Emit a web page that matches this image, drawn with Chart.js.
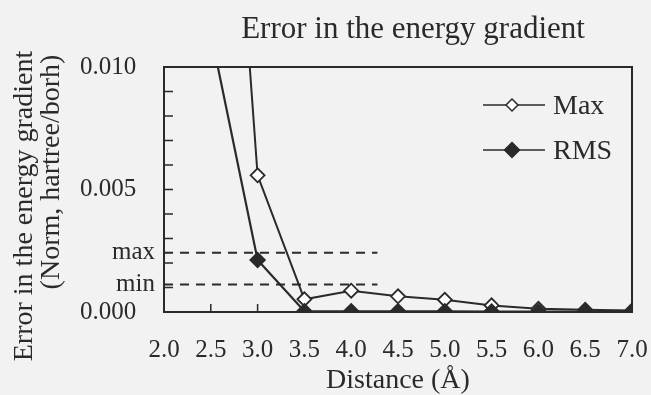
<!DOCTYPE html>
<html>
<head>
<meta charset="utf-8">
<title>Error in the energy gradient</title>
<script src="https://cdn.jsdelivr.net/npm/chart.js@4.4.1/dist/chart.umd.min.js"></script>
<style>
    html, body { margin: 0; padding: 0; background: #f2f2f2; }
    #wrap { width: 651px; height: 395px; }
</style>
</head>
<body>
<div id="wrap"><canvas id="chart" width="651" height="395"></canvas></div>
<script>
// Distance (Å) and gradient errors
const distances = [2.5, 3.0, 3.5, 4.0, 4.5, 5.0, 5.5, 6.0, 6.5, 7.0];
const maxError = [0.032, 0.00558, 0.00052, 0.00087, 0.00064, 0.0005, 0.00027, 0.00013, 0.00009, 0.00006];
const rmsError = [0.0114, 0.00212, 0.00003, 0.00003, 0.00003, 0.00003, 0.00002, 0.00002, 0.00002, 0.00002];

// dashed reference levels and how far they run along x
const refMax = 0.00242;
const refMin = 0.00112;
const refSpan = [2.0, 4.28];

// axis ticks
const xTickStep = 0.5;
const yTickValues = [0, refMin, refMax, 0.005, 0.010];
const yTickLabels = ['0.000', 'min', 'max', '0.005', '0.010'];
const yMinorTicks = [0, 0.001, 0.002, 0.003, 0.004, 0.005, 0.006, 0.007, 0.008, 0.009, 0.010];

const legendItems = [
    { label: 'Max', filled: false },
    { label: 'RMS', filled: true }
];

const ink = '#2a2a2a';
const serif = '"Liberation Serif", "Times New Roman", serif';

/**
 * Frame round the plot plus inward tick marks
 */
const framePlugin = {
    id: 'frame',
    beforeDatasetsDraw(chart) {
        const { ctx, chartArea: a, scales } = chart;
        ctx.save();
        ctx.strokeStyle = ink;
        ctx.lineWidth = 2;
        ctx.strokeRect(a.left, a.top, a.right - a.left, a.bottom - a.top);

        ctx.lineWidth = 1.5;
        ctx.beginPath();
        yMinorTicks.forEach(v => {
            const y = scales.y.getPixelForValue(v);
            ctx.moveTo(a.left, y);
            ctx.lineTo(a.left + 9, y);
        });
        scales.x.ticks.forEach(t => {
            const x = scales.x.getPixelForValue(t.value);
            ctx.moveTo(x, a.bottom);
            ctx.lineTo(x, a.bottom - 8);
        });
        ctx.stroke();
        ctx.restore();
    }
};

/**
 * Title, two-line y title and the legend inside the plot
 */
const textPlugin = {
    id: 'texts',
    afterDraw(chart) {
        const ctx = chart.ctx;
        ctx.save();
        ctx.fillStyle = ink;

        // title
        ctx.font = '31px ' + serif;
        ctx.textAlign = 'center';
        ctx.textBaseline = 'alphabetic';
        ctx.fillText('Error in the energy gradient', 413, 38);

        // y axis title, rotated
        ctx.font = '28px ' + serif;
        [['Error in the energy gradient', 32, 206], ['(Norm, hartree/borh)', 59, 172]].forEach(([txt, x, y]) => {
            ctx.save();
            ctx.translate(x, y);
            ctx.rotate(-Math.PI / 2);
            ctx.fillText(txt, 0, 0);
            ctx.restore();
        });

        // legend
        ctx.strokeStyle = ink;
        ctx.textAlign = 'left';
        legendItems.forEach((item, i) => {
            const y = 105 + i * 45;
            ctx.lineWidth = 1.5;
            ctx.beginPath();
            ctx.moveTo(483, y);
            ctx.lineTo(545, y);
            ctx.stroke();

            const r = item.filled ? 7.5 : 6;
            ctx.beginPath();
            ctx.moveTo(512, y - r);
            ctx.lineTo(512 + r, y);
            ctx.lineTo(512, y + r);
            ctx.lineTo(512 - r, y);
            ctx.closePath();
            ctx.fillStyle = item.filled ? ink : '#ffffff';
            ctx.fill();
            ctx.stroke();

            ctx.fillStyle = ink;
            ctx.font = '28px ' + serif;
            ctx.fillText(item.label, 553, y + 9);
        });
        ctx.restore();
    }
};

const toPoints = (xs, ys) => xs.map((x, i) => ({ x: x, y: ys[i] }));

const refDataset = (level) => ({
    label: '',
    data: refSpan.map(x => ({ x: x, y: level })),
    borderColor: ink,
    borderWidth: 2,
    borderDash: [9, 7],
    pointRadius: 0,
    order: 3
});

new Chart(document.getElementById('chart'), {
    type: 'line',
    data: {
        datasets: [
            {
                label: 'RMS',
                data: toPoints(distances, rmsError),
                borderColor: ink,
                backgroundColor: ink,
                borderWidth: 2.2,
                pointStyle: 'rectRot',
                pointRadius: 7.5,
                pointBorderWidth: 1.5,
                order: 0
            },
            {
                label: 'Max',
                data: toPoints(distances, maxError),
                borderColor: ink,
                backgroundColor: '#ffffff',
                borderWidth: 2,
                pointStyle: 'rectRot',
                pointRadius: 7,
                pointBorderWidth: 1.8,
                order: 1
            },
            refDataset(refMax),
            refDataset(refMin)
        ]
    },
    options: {
        responsive: false,
        animation: false,
        devicePixelRatio: 1,
        layout: { padding: { top: 67, right: 19, left: 0, bottom: 0 } },
        plugins: {
            legend: { display: false },
            title: { display: false },
            tooltip: { enabled: false }
        },
        scales: {
            x: {
                type: 'linear',
                min: 2,
                max: 7,
                grid: { display: false, drawTicks: false },
                border: { display: false },
                ticks: {
                    stepSize: xTickStep,
                    autoSkip: false,
                    maxRotation: 0,
                    padding: 23,
                    color: ink,
                    font: { family: serif, size: 25 },
                    callback: v => Number(v).toFixed(1)
                },
                title: {
                    display: true,
                    text: 'Distance (Å)',
                    color: ink,
                    font: { family: serif, size: 28, lineHeight: 1 },
                    padding: { top: 0, bottom: 0 }
                },
                afterFit(scale) {
                    scale.height = 83;
                    // the outer tick labels may hang over the plot edges
                    scale.paddingLeft = 0;
                    scale.paddingRight = 0;
                }
            },
            y: {
                type: 'linear',
                min: 0,
                max: 0.01,
                grid: { display: false, drawTicks: false },
                border: { display: false },
                afterBuildTicks(scale) {
                    scale.ticks = yTickValues.map(v => ({ value: v }));
                },
                ticks: {
                    autoSkip: false,
                    padding: 9,
                    color: ink,
                    font: { family: serif, size: 25 },
                    callback: (v, i) => {
                        const lbl = yTickLabels[i];
                        // numbers sit further from the axis than min/max
                        return /\d/.test(lbl) ? lbl + '   ' : lbl;
                    }
                },
                afterFit(scale) {
                    scale.width = 164;
                    scale.paddingTop = 0;
                    scale.paddingBottom = 0;
                }
            }
        }
    },
    plugins: [framePlugin, textPlugin]
});
</script>
</body>
</html>
